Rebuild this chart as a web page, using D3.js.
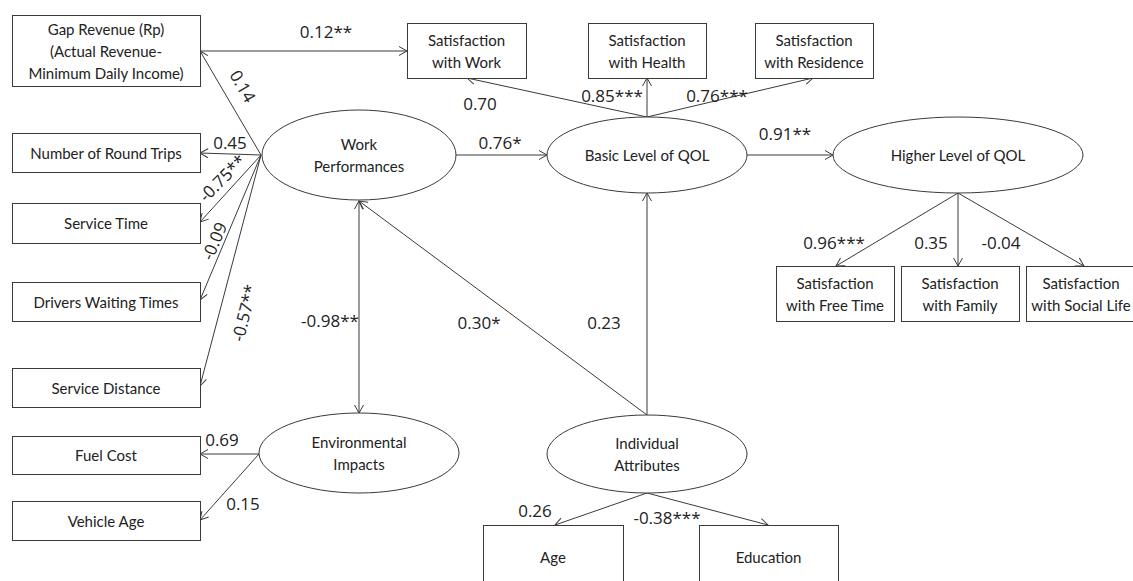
<!DOCTYPE html>
<html><head><meta charset="utf-8">
<script src="https://cdn.jsdelivr.net/npm/d3@7"></script>
<style>body{margin:0;background:#fff}svg{display:block}</style>
</head><body>
<script>
// ---- data ----
const observedNames = ["Gap Revenue (Rp)|(Actual Revenue-|Minimum Daily Income)","Number of Round Trips","Service Time","Drivers Waiting Times","Service Distance","Fuel Cost","Vehicle Age","Satisfaction|with Work","Satisfaction|with Health","Satisfaction|with Residence","Satisfaction|with Free Time","Satisfaction|with Family","Satisfaction|with Social Life","Age","Education"];
const latentNames = ["Work|Performances","Basic Level of QOL","Higher Level of QOL","Environmental|Impacts","Individual|Attributes"];
const pathFrom = ["WP","WP","WP","WP","WP","GR","WP","BQ","BQ","BQ","BQ","HQ","HQ","HQ","WP","IA","IA","EI","EI","IA","IA"];
const pathTo   = ["GR","RT","ST","DW","SD","SW","BQ","SW","SH","SR","HQ","FT","FA","SL","EI","WP","BQ","FC","VA","AG","ED"];
const coefficients = ["0.14","0.45","-0.75**","-0.09","-0.57**","0.12**","0.76*","0.70","0.85***","0.76***","0.91**","0.96***","0.35","-0.04","-0.98**","0.30*","0.23","0.69","0.15","0.26","-0.38***"];

// ---- layout (positions/sizes kept separate from data) ----
const W = 1133, H = 581;
const boxIds = ["GR","RT","ST","DW","SD","FC","VA","SW","SH","SR","FT","FA","SL","AG","ED"];
const boxRects = {
  GR:[12,15,188,71], RT:[12,133,188,39], ST:[12,203,188,40], DW:[12,282,188,39], SD:[12,368,188,39],
  FC:[12,436,188,38], VA:[12,501,188,39],
  SW:[407,23,119,55], SH:[588,23,118,55], SR:[755,23,118,55],
  FT:[776,266,118,55], FA:[901,266,118,55], SL:[1026,266,118,55],
  AG:[483,525,140,70], ED:[699,525,139,70]
};
const textShift = { SL:-4 };
const ellIds = ["WP","BQ","HQ","EI","IA"];
const ellGeo = { WP:[359,155,97,45], BQ:[647,155,100,38], HQ:[958,155,125,38], EI:[359,453,100,40], IA:[647,454,100,39] };
const anchors = {
  "WP-GR":[261,155,200,51], "WP-RT":[261,155,200,153], "WP-ST":[261,155,200,222], "WP-DW":[261,155,200,300], "WP-SD":[261,155,200,386],
  "GR-SW":[200,51,407,51], "WP-BQ":[456,155,547,155],
  "BQ-SW":[647,117,467,78], "BQ-SH":[647,117,647,78], "BQ-SR":[647,117,813,78],
  "BQ-HQ":[747,155,833,155],
  "HQ-FT":[958,193,836,266], "HQ-FA":[958,193,958,266], "HQ-SL":[958,193,1084,266],
  "WP-EI":[359,201,359,413], "IA-WP":[647,415,359,201], "IA-BQ":[647,415,647,193],
  "EI-FC":[259,454,200,454], "EI-VA":[259,454,200,520],
  "IA-AG":[647,493,555,525], "IA-ED":[647,493,768,525]
};
const doubleHeaded = {"WP-EI":true};
const labelPos = {
  "WP-GR":[243,86,60], "WP-RT":[230,142,0], "WP-ST":[222,178,-45], "WP-DW":[214,241,-67], "WP-SD":[244,313,-76],
  "GR-SW":[326,31,0], "WP-BQ":[500,142,0],
  "BQ-SW":[480,103,0], "BQ-SH":[612,95,0], "BQ-SR":[717,95,0], "BQ-HQ":[785,133,0],
  "HQ-FT":[834,242,0], "HQ-FA":[931,242,0], "HQ-SL":[1001,242,0],
  "WP-EI":[330,320,0], "IA-WP":[479,322,0], "IA-BQ":[604,322,0],
  "EI-FC":[222,439,0], "EI-VA":[243,503,0], "IA-AG":[535,510,0], "IA-ED":[667,517,0]
};

const svg = d3.select("body").append("svg").attr("width",W).attr("height",H);
const stroke = "#3a3a3a";
const font = "Lato, 'Open Sans', 'Liberation Sans', sans-serif";
const labelFont = "'Open Sans', Lato, sans-serif";

svg.append("defs").append("marker")
  .attr("id","arr").attr("viewBox","-10 -6 12 12").attr("refX",0).attr("refY",0)
  .attr("markerWidth",12).attr("markerHeight",12).attr("markerUnits","userSpaceOnUse")
  .attr("orient","auto-start-reverse")
  .append("path").attr("d","M-8,-4.5L0,0L-8,4.5").attr("fill","none").attr("stroke",stroke).attr("stroke-width",1);

const paths = pathFrom.map((f,i)=>({key:f+"-"+pathTo[i], label:coefficients[i]}));

svg.append("g").selectAll("line").data(paths).join("line")
  .attr("x1",d=>anchors[d.key][0]).attr("y1",d=>anchors[d.key][1])
  .attr("x2",d=>anchors[d.key][2]).attr("y2",d=>anchors[d.key][3])
  .attr("stroke",stroke).attr("stroke-width",1)
  .attr("marker-end","url(#arr)")
  .attr("marker-start",d=>doubleHeaded[d.key]?"url(#arr)":null);

const boxes = svg.append("g").selectAll("g").data(boxIds.map((id,i)=>({id,name:observedNames[i]}))).join("g");
boxes.append("rect")
  .attr("x",d=>boxRects[d.id][0]+0.5).attr("y",d=>boxRects[d.id][1]+0.5)
  .attr("width",d=>boxRects[d.id][2]).attr("height",d=>boxRects[d.id][3])
  .attr("fill","#fff").attr("stroke",stroke).attr("stroke-width",1);

function multiText(sel, cx, cy, lines, size, lh){
  const n = lines.length;
  lines.forEach((t,i)=>{
    sel.append("text").attr("x",cx).attr("y",cy+(i-(n-1)/2)*lh)
      .attr("text-anchor","middle").attr("dominant-baseline","central")
      .attr("font-family",font).attr("font-size",size).attr("fill","#222").text(t);
  });
}
boxes.each(function(d){
  const r = boxRects[d.id];
  let cy = r[1]+r[3]/2;
  if (d.id==="AG"||d.id==="ED") cy = r[1]+32;
  multiText(d3.select(this), r[0]+r[2]/2+(textShift[d.id]||0), cy, d.name.split("|"), 15, 22);
});

const ells = svg.append("g").selectAll("g").data(ellIds.map((id,i)=>({id,name:latentNames[i]}))).join("g");
ells.append("ellipse")
  .attr("cx",d=>ellGeo[d.id][0]).attr("cy",d=>ellGeo[d.id][1])
  .attr("rx",d=>ellGeo[d.id][2]).attr("ry",d=>ellGeo[d.id][3])
  .attr("fill","#fff").attr("stroke",stroke).attr("stroke-width",1);
ells.each(function(d){
  const g = ellGeo[d.id];
  multiText(d3.select(this), g[0], g[1], d.name.split("|"), 15, 22);
});

svg.append("g").selectAll("text").data(paths).join("text")
  .attr("transform",d=>{const p=labelPos[d.key];return `translate(${p[0]},${p[1]}) rotate(${p[2]})`;})
  .attr("text-anchor","middle").attr("dominant-baseline","central")
  .attr("font-family",labelFont).attr("font-size",17).attr("fill","#222")
  .text(d=>d.label);
</script>
</body></html>
